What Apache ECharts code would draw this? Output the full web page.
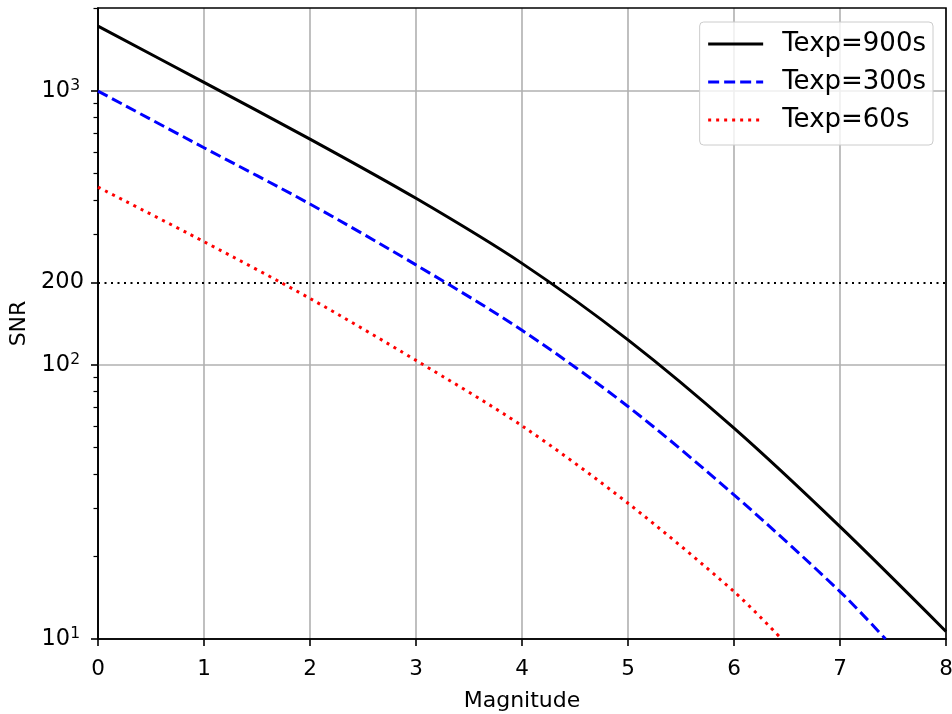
<!DOCTYPE html>
<html>
<head>
<meta charset="utf-8">
<script src="https://cdn.jsdelivr.net/npm/echarts@6/dist/echarts.min.js"></script>
<style>
  html, body { margin: 0; padding: 0; background: #fff; }
  #chart { width: 952px; height: 714px; }
</style>
</head>
<body>
<div id="chart"></div>
<script>
// values
const mag900 = [0, 1, 2, 3, 4, 5, 6, 7, 8];
const snr900 = [1726, 1076, 668, 406, 235, 123.5, 58.8, 25.7, 10.65];

const mag300 = [0, 1, 2, 3, 4, 5, 6, 7, 7.43];
const snr300 = [1000, 621, 387, 232, 134, 70.6, 33.6, 14.9, 10];

const mag60 = [0, 1, 2, 3, 4, 5, 6, 6.45];
const snr60 = [446, 282, 175, 104, 60, 31.3, 14.9, 10];

const yMajor = [10, 100, 200, 1000];
const yMinor = [20, 30, 40, 50, 60, 70, 80, 90, 300, 400, 500, 600, 700, 800, 900, 2000];
const yGrid = [100, 1000];
const snrLimit = 200;

const FONT = "DejaVu Sans";
const zip = (xs, ys) => xs.map((x, i) => [x, ys[i]]);

const chart = echarts.init(document.getElementById("chart"), null, { renderer: "canvas" });

const yLabel = (v) => {
  if (Math.abs(v - 200) < 1e-6) return "{big|200}";
  const e = Math.round(Math.log10(v));
  return "{base|10}{sup|" + e + "}";
};

const option = {
  animation: false,
  backgroundColor: "#fff",
  textStyle: { fontFamily: FONT },
  grid: {
    left: 98, right: 6, top: 8, bottom: 75,
    outerBoundsMode: "none",
    show: true, z: 3,
    borderColor: "#000", borderWidth: 1.6, backgroundColor: "transparent",
  },
  legend: {
    orient: "vertical",
    right: 19, top: 22,
    padding: [9, 7, 12, 7],
    itemGap: 12,
    itemWidth: 55, itemHeight: 14,
    backgroundColor: "rgba(255,255,255,0.8)",
    borderColor: "#cccccc", borderWidth: 1, borderRadius: 4,
    itemStyle: { color: "rgba(0,0,0,0)", borderColor: "rgba(0,0,0,0)", borderWidth: 0 },
    lineStyle: { width: 3 },
    textStyle: { fontFamily: FONT, fontSize: 26, color: "#000", padding: [0, 0, 0, 14] },
    data: ["Texp=900s", "Texp=300s", "Texp=60s"],
  },
  xAxis: {
    type: "value",
    min: 0, max: 8, interval: 1,
    name: "Magnitude", nameLocation: "middle", nameGap: 51,
    nameTextStyle: { fontFamily: FONT, fontSize: 22, color: "#000" },
    axisLine: { lineStyle: { color: "#000", width: 1.6 } },
    axisTick: { length: 7, lineStyle: { color: "#000", width: 1.6 } },
    axisLabel: { fontFamily: FONT, fontSize: 21.5, color: "#000", margin: 19 },
    splitLine: { show: true, lineStyle: { color: "#b0b0b0", width: 1.6 } },
  },
  yAxis: [
    {
      type: "log",
      min: 10, max: 2010,
      name: "SNR", nameLocation: "middle", nameGap: 68,
      nameTextStyle: { fontFamily: FONT, fontSize: 22, color: "#000" },
      axisLine: { lineStyle: { color: "#000", width: 1.6 } },
      axisTick: { length: 7, lineStyle: { color: "#000", width: 1.6 }, customValues: yMajor },
      axisLabel: {
        customValues: yMajor,
        formatter: yLabel,
        fontFamily: FONT, fontSize: 21.5, color: "#000", margin: 14,
        rich: {
          base: { fontFamily: FONT, fontSize: 22.5, color: "#000" },
          sup: { fontFamily: FONT, fontSize: 15.5, color: "#000", verticalAlign: "top", padding: [0, 4, 10, 0] },
          big: { fontFamily: FONT, fontSize: 22.5, color: "#000" },
        },
      },
      splitLine: { show: false },
    },
    {
      type: "log",
      min: 10, max: 2010,
      position: "left",
      axisLine: { show: false },
      axisTick: { length: 4.5, lineStyle: { color: "#000", width: 1.2 }, customValues: yMinor },
      axisLabel: { show: false },
      splitLine: { show: false },
    },
  ],
  series: [
    {
      name: "Texp=900s", type: "line", showSymbol: false, symbol: "none",
      smooth: 0.3,
      data: zip(mag900, snr900),
      lineStyle: { color: "#000", width: 3, type: "solid" },
      itemStyle: { color: "#000" },
      z: 4,
      markLine: {
        silent: true, symbol: "none", z: 1,
        label: { show: false },
        lineStyle: { color: "#b0b0b0", width: 1.6, type: "solid" },
        data: yGrid.map((v) => ({ yAxis: v })),
      },
    },
    {
      name: "Texp=300s", type: "line", showSymbol: false, symbol: "none",
      smooth: 0.3,
      data: zip(mag300, snr300),
      lineStyle: { color: "#0000ff", width: 3, type: [11, 5] },
      itemStyle: { color: "#0000ff" },
      z: 4,
    },
    {
      name: "Texp=60s", type: "line", showSymbol: false, symbol: "none",
      smooth: 0.3,
      data: zip(mag60, snr60),
      lineStyle: { color: "#ff0000", width: 3, type: [3, 5] },
      itemStyle: { color: "#ff0000" },
      z: 4,
      markLine: {
        silent: true, symbol: "none", z: 3,
        label: { show: false },
        lineStyle: { color: "#000", width: 2, type: [2, 4.5] },
        data: [{ yAxis: snrLimit }],
      },
    },
  ],
};

chart.setOption(option);
</script>
</body>
</html>
